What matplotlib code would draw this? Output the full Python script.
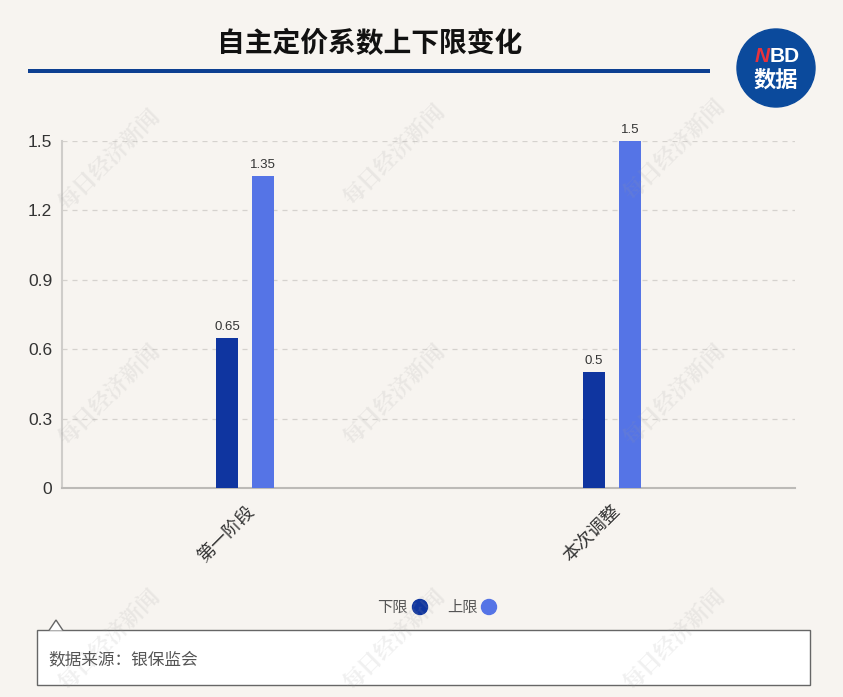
import matplotlib.pyplot as plt
from matplotlib.patches import Circle, Rectangle, Polygon
import numpy as np

plt.rcParams['font.family'] = ['Noto Sans CJK SC', 'DejaVu Sans']

categories = ['第一阶段', '本次调整']
lower = [0.65, 0.5]
upper = [1.35, 1.5]
series_names = ['下限', '上限']
yticks = [0, 0.3, 0.6, 0.9, 1.2, 1.5]

bg = '#f7f4f0'
c_low = '#0f35a0'
c_up = '#5574e6'
num_font = ['Liberation Sans', 'DejaVu Sans']

fig = plt.figure(figsize=(8.43, 6.97), dpi=100, facecolor=bg)
W, H = 843, 697

def fx(px):
    return px / W

def fy(py):
    return 1 - py / H

ax = fig.add_axes([fx(62), fy(488), fx(795) - fx(62), fy(141) - fy(488)])
ax.set_facecolor('none')

x = np.arange(len(categories))
w = 0.06
off = 0.049
b1 = ax.bar(x - off, lower, w, color=c_low, zorder=3)
b2 = ax.bar(x + off, upper, w, color=c_up, zorder=3)
for bars, vals in [(b1, lower), (b2, upper)]:
    for b, v in zip(bars, vals):
        ax.text(b.get_x() + b.get_width() / 2, v + 0.022, f'{v:g}', ha='center', va='bottom',
                fontsize=9.5, color='#333333', family=num_font)

ax.set_xlim(-0.5, 1.5)
ax.set_ylim(0, 1.5)
ax.set_yticks(yticks)
ax.set_yticklabels([f'{t:g}' for t in yticks], family=num_font)
ax.yaxis.grid(True, linestyle=(0, (4, 4)), color='#d5d2ce', linewidth=0.9)
ax.set_axisbelow(True)
ax.set_xticks(x)
ax.set_xticklabels(categories, rotation=45, ha='right', rotation_mode='anchor', fontsize=13,
                   color='#333333')
ax.tick_params(axis='x', length=0, pad=10)
ax.tick_params(axis='y', length=0, labelsize=12.5, labelcolor='#333333', pad=7)
for s in ['top', 'right']:
    ax.spines[s].set_visible(False)
ax.spines['left'].set_color('#cfcdca')
ax.spines['left'].set_linewidth(1.5)
ax.spines['bottom'].set_color('#bcbab7')
ax.spines['bottom'].set_linewidth(1.5)

# title and rule
fig.text(fx(370), fy(44), '自主定价系数上下限变化', ha='center', va='center', fontsize=20,
         fontweight='bold', color='#111111')
fig.add_artist(Rectangle((fx(28), fy(73)), fx(710) - fx(28), 4 / H, transform=fig.transFigure,
                         color='#0d3f91', lw=0))

# logo (circle in inches so it stays round)
fig.add_artist(Circle((776 / 100, (H - 68) / 100), 0.39, transform=fig.dpi_scale_trans,
                      color='#0b4a9c'))
fig.text(fx(762), fy(57), 'N', ha='center', va='center', fontsize=15, fontweight='bold',
         style='italic', color='#e8323c', family=num_font)
fig.text(fx(785), fy(57), 'BD', ha='center', va='center', fontsize=15, fontweight='bold',
         color='white', family=num_font)
fig.text(fx(776), fy(80), '数据', ha='center', va='center', fontsize=16, fontweight='bold',
         style='italic', color='white')

# legend
fig.text(fx(408), fy(607), series_names[0], ha='right', va='center', fontsize=11, color='#555555')
fig.text(fx(478), fy(607), series_names[1], ha='right', va='center', fontsize=11, color='#555555')
for cx, c in [(420, c_low), (489, c_up)]:
    fig.add_artist(Circle((cx / 100, (H - 607) / 100), 0.075, transform=fig.dpi_scale_trans,
                          color=c))

# source box
fig.add_artist(Rectangle((fx(37), fy(685)), fx(810) - fx(37), 55 / H, transform=fig.transFigure,
                         facecolor='white', edgecolor='#666666', lw=1))
fig.add_artist(Polygon([(fx(49), fy(630.5)), (fx(56), fy(620)), (fx(63), fy(630.5))],
                       closed=False, transform=fig.transFigure, facecolor='white',
                       edgecolor='#666666', lw=1))
fig.text(fx(48), fy(660), '数据来源：银保监会', ha='left', va='center', fontsize=12,
         color='#555555')

# watermarks, drawn over everything
for (wx, wy) in [(110, 160), (395, 155), (675, 150), (110, 395), (395, 395), (675, 395),
                 (110, 640), (395, 640), (675, 640)]:
    fig.text(fx(wx), fy(wy), '每日经济新闻', rotation=45, fontsize=16, color='#9a9a9a',
             alpha=0.15, ha='center', va='center', fontweight='bold', zorder=10,
             family=['Noto Serif CJK SC', 'Noto Sans CJK SC'])

fig.savefig('out.png', dpi=100, facecolor=bg)
